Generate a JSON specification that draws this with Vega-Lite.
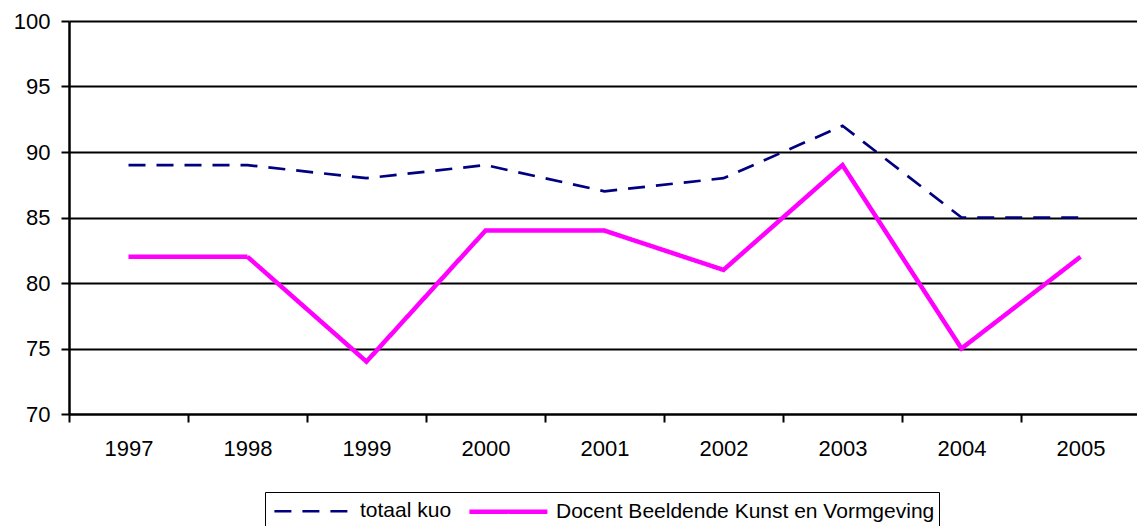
{
  "$schema": "https://vega.github.io/schema/vega-lite/v6.json",
  "width": 1071,
  "height": 393,
  "autosize": "none",
  "padding": {"left": 69, "top": 21, "right": -3, "bottom": 112},
  "background": "white",
  "config": {
    "view": {"stroke": null},
    "font": "Liberation Sans"
  },
  "data": {
    "values": [
      {"year": "1997", "series": "totaal kuo", "value": 89},
      {"year": "1998", "series": "totaal kuo", "value": 89},
      {"year": "1999", "series": "totaal kuo", "value": 88},
      {"year": "2000", "series": "totaal kuo", "value": 89},
      {"year": "2001", "series": "totaal kuo", "value": 87},
      {"year": "2002", "series": "totaal kuo", "value": 88},
      {"year": "2003", "series": "totaal kuo", "value": 92},
      {"year": "2004", "series": "totaal kuo", "value": 85},
      {"year": "2005", "series": "totaal kuo", "value": 85},
      {"year": "1997", "series": "Docent Beeldende Kunst en Vormgeving", "value": 82},
      {"year": "1998", "series": "Docent Beeldende Kunst en Vormgeving", "value": 82},
      {"year": "1999", "series": "Docent Beeldende Kunst en Vormgeving", "value": 74},
      {"year": "2000", "series": "Docent Beeldende Kunst en Vormgeving", "value": 84},
      {"year": "2001", "series": "Docent Beeldende Kunst en Vormgeving", "value": 84},
      {"year": "2002", "series": "Docent Beeldende Kunst en Vormgeving", "value": 81},
      {"year": "2003", "series": "Docent Beeldende Kunst en Vormgeving", "value": 89},
      {"year": "2004", "series": "Docent Beeldende Kunst en Vormgeving", "value": 75},
      {"year": "2005", "series": "Docent Beeldende Kunst en Vormgeving", "value": 82}
    ]
  },
  "mark": {"type": "line", "strokeCap": "butt"},
  "encoding": {
    "x": {
      "field": "year",
      "type": "nominal",
      "scale": {"type": "band", "paddingInner": 0, "paddingOuter": 0},
      "axis": {
        "title": null,
        "labelAngle": 0,
        "labelFontSize": 22,
        "labelColor": "black",
        "labelPadding": 16,
        "tickBand": "extent",
        "tickSize": 8,
        "tickColor": "black",
        "tickWidth": 2,
        "domainColor": "black",
        "domainWidth": 2,
        "grid": false
      }
    },
    "y": {
      "field": "value",
      "type": "quantitative",
      "scale": {"domain": [70, 100], "nice": false, "zero": false},
      "axis": {
        "title": null,
        "values": [70, 75, 80, 85, 90, 95, 100],
        "labelFontSize": 22,
        "labelColor": "black",
        "labelPadding": 11,
        "tickSize": 8,
        "tickColor": "black",
        "tickWidth": 2,
        "domainColor": "black",
        "domainWidth": 2.5,
        "grid": true,
        "gridColor": "black",
        "gridWidth": 2,
        "gridOpacity": 1
      }
    },
    "color": {
      "field": "series",
      "type": "nominal",
      "scale": {"domain": ["totaal kuo", "Docent Beeldende Kunst en Vormgeving"], "range": ["#000080", "#FF00FF"]},
      "legend": {
        "title": null,
        "orient": "none",
        "legendX": 196,
        "legendY": 471,
        "direction": "horizontal",
        "symbolType": "M-0.7,0H5.3",
        "symbolSize": 676,
        "labelFontSize": 21,
        "labelColor": "black",
        "labelOffset": 62,
        "labelLimit": 600,
        "columnPadding": 8,
        "strokeColor": "black",
        "fillColor": "white",
        "padding": 4
      }
    },
    "strokeDash": {
      "field": "series",
      "type": "nominal",
      "scale": {"domain": ["totaal kuo", "Docent Beeldende Kunst en Vormgeving"], "range": [[17, 11], [1, 0]]}
    },
    "strokeWidth": {
      "field": "series",
      "type": "nominal",
      "scale": {"domain": ["totaal kuo", "Docent Beeldende Kunst en Vormgeving"], "range": [2.7, 4.5]}
    }
  }
}
